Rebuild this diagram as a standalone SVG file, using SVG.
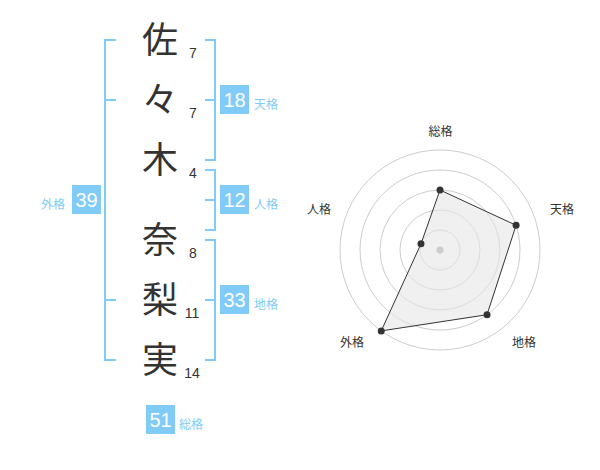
<svg xmlns="http://www.w3.org/2000/svg" width="600" height="470" viewBox="0 0 600 470">
<style>
.br{fill:none;stroke:#80cbf7;stroke-width:2}
.box{fill:#80cbf7}
.bn{font-family:"Liberation Sans",Arial,sans-serif;font-size:20px;fill:#fff;text-anchor:middle}
.bl{font-family:"Noto Sans CJK JP",sans-serif;font-size:12px;fill:#80cbf7}
.ch{font-family:"Noto Sans CJK JP",sans-serif;font-size:36px;fill:#333;text-anchor:middle}
.sc{font-family:"Liberation Sans",Arial,sans-serif;font-size:14px;fill:#333;text-anchor:middle}
.ring{fill:none;stroke:#ccc;stroke-width:1}
.rl{font-family:"Noto Sans CJK JP",sans-serif;font-size:12px;fill:#333;text-anchor:middle}
</style>
<rect width="600" height="470" fill="#fff"/>
<g id="connectors">
<path class="br" d="M116,40 H105 V360 H116 M105,100 H116 M105,300 H116"/>
<path class="br" d="M205,40 H215 V160 H205 M215,100 H205"/>
<path class="br" d="M205,170 H215 V230 H205 M215,200 H205"/>
<path class="br" d="M205,240 H215 V360 H205 M215,300 H205"/>
</g>
<g id="chars">
<text class="ch" x="160" y="53">佐</text>
<text class="ch" x="160" y="113">々</text>
<text class="ch" x="160" y="173">木</text>
<text class="ch" x="160" y="253">奈</text>
<text class="ch" x="160" y="313">梨</text>
<text class="ch" x="160" y="373">実</text>
</g>
<g id="strokes">
<text class="sc" x="193" y="58">7</text>
<text class="sc" x="193" y="118">7</text>
<text class="sc" x="193" y="178">4</text>
<text class="sc" x="193" y="258">8</text>
<text class="sc" x="192" y="318">11</text>
<text class="sc" x="192" y="378">14</text>
</g>
<g id="tenkaku">
<rect class="box" x="220" y="85" width="29" height="29"/>
<text class="bn" x="234.5" y="107">18</text>
<text class="bl" x="254" y="108.5">天格</text>
</g>
<g id="jinkaku">
<rect class="box" x="220" y="185" width="29" height="29"/>
<text class="bn" x="234.5" y="207">12</text>
<text class="bl" x="254" y="208.5">人格</text>
</g>
<g id="chikaku">
<rect class="box" x="220" y="285" width="29" height="29"/>
<text class="bn" x="234.5" y="307">33</text>
<text class="bl" x="254" y="308.5">地格</text>
</g>
<g id="gaikaku">
<rect class="box" x="72" y="185" width="29" height="29"/>
<text class="bn" x="86.5" y="207">39</text>
<text class="bl" x="41" y="208.5">外格</text>
</g>
<g id="soukaku">
<rect class="box" x="146" y="405" width="29" height="29"/>
<text class="bn" x="160.5" y="427">51</text>
<text class="bl" x="179" y="428.5">総格</text>
</g>
<g id="radar">
<circle class="ring" cx="440" cy="250" r="20"/>
<circle class="ring" cx="440" cy="250" r="40"/>
<circle class="ring" cx="440" cy="250" r="60"/>
<circle class="ring" cx="440" cy="250" r="80"/>
<circle class="ring" cx="440" cy="250" r="100"/>
<polygon points="440,190 516.08,225.28 487.02,314.72 381.22,330.9 420.98,243.82" fill="#e6e6e6" fill-opacity="0.6" stroke="#333" stroke-width="1"/>
<circle cx="440" cy="250" r="3.5" fill="#ccc"/>
<g fill="#333">
<circle cx="440" cy="190" r="3.5"/>
<circle cx="516.08" cy="225.28" r="3.5"/>
<circle cx="487.02" cy="314.72" r="3.5"/>
<circle cx="381.22" cy="330.9" r="3.5"/>
<circle cx="420.98" cy="243.82" r="3.5"/>
</g>
<text class="rl" x="440.5" y="136">総格</text>
<text class="rl" x="562" y="214">天格</text>
<text class="rl" x="524" y="347">地格</text>
<text class="rl" x="352" y="347">外格</text>
<text class="rl" x="319" y="214">人格</text>
</g>
</svg>
